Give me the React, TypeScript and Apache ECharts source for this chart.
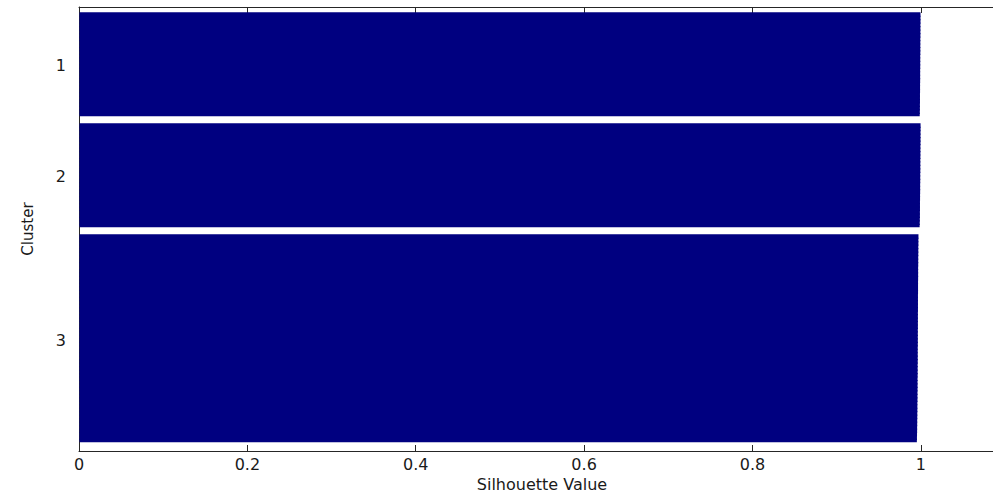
import React, { useEffect, useRef } from "react";
import * as echarts from "echarts";

// Silhouette values per cluster (sorted descending, as MATLAB's silhouette plot)
const cluster1Values = [
  0.9996, 0.9996, 0.9996, 0.9995, 0.9995, 0.9995, 0.9995, 0.9994, 0.9994, 0.9994,
  0.9994, 0.9994, 0.9993, 0.9993, 0.9993, 0.9993, 0.9992, 0.9992, 0.9992, 0.9992,
  0.9991, 0.9991, 0.9991, 0.999, 0.999, 0.999, 0.9989, 0.9989, 0.9988, 0.9987,
];
const cluster2Values = [
  0.9997, 0.9997, 0.9996, 0.9996, 0.9996, 0.9996, 0.9995, 0.9995, 0.9995, 0.9995,
  0.9994, 0.9994, 0.9994, 0.9994, 0.9993, 0.9993, 0.9993, 0.9992, 0.9992, 0.9992,
  0.9991, 0.9991, 0.999, 0.999, 0.999, 0.9989, 0.9989, 0.9988, 0.9987, 0.9986,
];
const cluster3Values = [
  0.9972, 0.9971, 0.9971, 0.997, 0.997, 0.997, 0.9969, 0.9969, 0.9969, 0.9968,
  0.9968, 0.9968, 0.9968, 0.9967, 0.9967, 0.9967, 0.9967, 0.9966, 0.9966, 0.9966,
  0.9966, 0.9966, 0.9965, 0.9965, 0.9965, 0.9965, 0.9965, 0.9964, 0.9964, 0.9964,
  0.9964, 0.9964, 0.9963, 0.9963, 0.9963, 0.9963, 0.9963, 0.9962, 0.9962, 0.9962,
  0.9962, 0.9961, 0.9961, 0.9961, 0.9961, 0.996, 0.996, 0.996, 0.9959, 0.9959,
  0.9959, 0.9958, 0.9958, 0.9957, 0.9957, 0.9956, 0.9956, 0.9955, 0.9954, 0.9953,
];
const clusterNames = ["1", "2", "3"];
const xTickInterval = 0.2;
const xMin = 0;
const xMax = 1.1;

const clusters = [cluster1Values, cluster2Values, cluster3Values];

export default function App() {
  const ref = useRef<HTMLDivElement>(null);

  useEffect(() => {
    if (!ref.current) return;
    const chart = echarts.init(ref.current, undefined, { renderer: "svg" });

    // Build bar rows like MATLAB: empty rows (space) between clusters
    const n = clusters.reduce((s, c) => s + c.length, 0);
    const space = Math.max(Math.floor(0.02 * n), 2);
    const rows: [number, number, number][] = [];
    const ticks: number[] = [];
    let pos = space;
    clusters.forEach((vals) => {
      vals.forEach((v, i) => {
        pos += 1;
        rows.push([v, pos, i < vals.length - 1 ? 1 : 0]);
      });
      pos += space;
      ticks.push(pos - 0.5 * (vals.length + space));
    });

    const textColor = "#1a1a1a";
    const axisColor = "#262626";
    const font = "DejaVu Sans";

    chart.setOption({
      animation: false,
      grid: {
        left: 79,
        width: 926,
        top: 7,
        bottom: 44,
        containLabel: false,
        outerBoundsMode: "none",
      },
      xAxis: [
        {
          type: "value",
          position: "bottom",
          min: xMin,
          max: xMax,
          interval: xTickInterval,
          name: "Silhouette Value",
          nameLocation: "middle",
          nameGap: 24,
          nameTextStyle: { color: textColor, fontSize: 16, fontFamily: font },
          axisLine: { show: true, lineStyle: { color: axisColor, width: 1 } },
          axisTick: { show: true, inside: true, length: 6, lineStyle: { color: axisColor } },
          axisLabel: {
            color: textColor,
            fontSize: 16,
            fontFamily: font,
            margin: 5,
            showMaxLabel: false,
          },
          splitLine: { show: false },
        },
        {
          type: "value",
          position: "top",
          min: xMin,
          max: xMax,
          interval: xTickInterval,
          axisLine: { show: true, lineStyle: { color: axisColor, width: 1 } },
          axisTick: { show: true, inside: true, length: 6, lineStyle: { color: axisColor } },
          axisLabel: { show: false },
          splitLine: { show: false },
        },
      ],
      yAxis: {
        type: "value",
        min: 1,
        max: pos + 1,
        inverse: true,
        name: "Cluster",
        nameLocation: "middle",
        nameGap: 44,
        nameRotate: 90,
        nameTextStyle: { color: textColor, fontSize: 15, fontFamily: font },
        axisLine: { show: true, lineStyle: { color: axisColor, width: 1 } },
        axisTick: { show: false },
        splitLine: { show: false },
        axisLabel: {
          customValues: ticks,
          color: textColor,
          fontSize: 16,
          fontFamily: font,
          margin: 13,
          formatter: (v: number) => {
            const i = ticks.findIndex((t) => Math.abs(t - v) < 1e-6);
            return i >= 0 ? clusterNames[i] : "";
          },
        },
      },
      series: [
        {
          type: "custom",
          xAxisIndex: 0,
          data: rows,
          renderItem: (params: any, api: any) => {
            const v = api.value(0);
            const p = api.value(1);
            const hasNext = api.value(2);
            const a = api.coord([0, p]);
            const b = api.coord([v, p]);
            const h = Math.abs(api.size([0, 1])[1]);
            return {
              type: "rect",
              shape: {
                x: a[0] + 0.5,
                y: a[1] - h / 2,
                width: b[0] - a[0] - 0.5,
                height: h + (hasNext ? 1.2 : 0),
              },
              style: { fill: "#000080" },
            };
          },
          z: 2,
        },
      ],
    });

    return () => chart.dispose();
  }, []);

  return (
    <div
      ref={ref}
      style={{ position: "fixed", left: 0, top: 0, width: 993, height: 495, background: "#fff" }}
    />
  );
}
